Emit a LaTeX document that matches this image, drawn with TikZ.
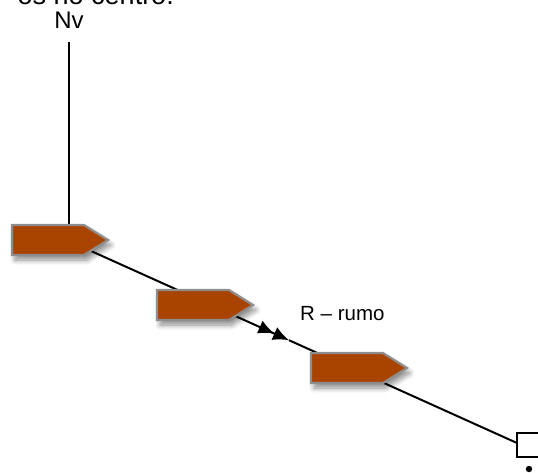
\documentclass[tikz,border=0pt]{standalone}
\usepackage{fontspec}
\setmainfont{Liberation Sans}
\usetikzlibrary{arrows.meta,shadows.blur}

\definecolor{rust}{HTML}{A84300}
\definecolor{rim}{HTML}{8E8E8E}

\tikzset{
  tagbox/.style={fill=rust, draw=rim, line width=2.2pt, line join=miter,
    blur shadow={shadow xshift=3pt, shadow yshift=-5pt, shadow blur steps=8, shadow blur radius=5pt, shadow opacity=45}},
  tagshape/.pic={
    \path[tagbox] (0,-15) -- (72,-15) -- (96,0) -- (72,15) -- (0,15) -- cycle;
  },
  course/.style={line width=2pt},
  mast/.style={line width=1.4pt},
  lbl/.style={inner sep=0pt, font=\fontsize{24}{28}\selectfont},
  doublehead/.style={-{Latex[length=16pt,width=14pt]Latex[length=16pt,width=14pt]}},
}

\begin{document}
\begin{tikzpicture}[x=1pt, y=-1pt]
  \useasboundingbox (0,0) rectangle (538,472);
  \clip (0,0) rectangle (538,472);

  % heading text, partly off the top edge
  \node[inner sep=0pt, anchor=base east, font=\fontsize{27}{31}\selectfont] (head) at (174,4) {os no centro.};
  \node[lbl, anchor=base] (nv) at (69,28) {Nv};

  % points along the course
  \coordinate (start) at (60,237);
  \coordinate (mid) at (289,340.2);
  \coordinate (finish) at (517,443);
  \coordinate (mastbot) at (69,225);

  % vertical reference line
  \draw[mast] (69,42) -- (mastbot);

  % course line with double arrowhead
  \draw[course, doublehead] (start) -- (mid);
  \draw[course] (mid) -- (finish);

  % markers along the course
  \pic at (12,240) {tagshape};
  \pic at (157,305) {tagshape};
  \pic at (311,368) {tagshape};

  % label for the course
  \node[inner sep=0pt, anchor=base west, font=\fontsize{20.5}{24}\selectfont] (rumo) at (300,320) {R – rumo};

  % box at the end of the course
  \draw[line width=2pt] (517,433) rectangle (548,457);
  \fill (529,469) circle (3.2);
\end{tikzpicture}
\end{document}
